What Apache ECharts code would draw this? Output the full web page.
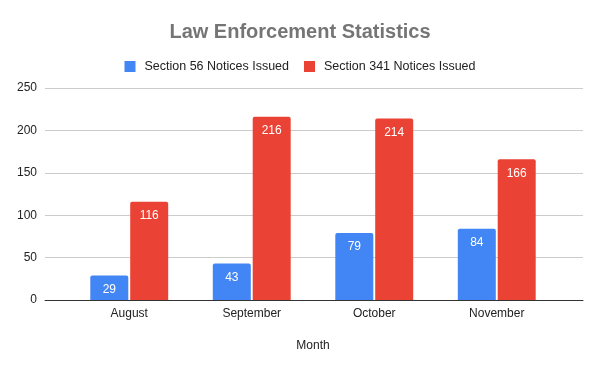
<!DOCTYPE html>
<html><head><meta charset="utf-8">
<script src="https://cdn.jsdelivr.net/npm/echarts@6/dist/echarts.min.js"></script>
<style>html,body{margin:0;padding:0;background:#fff}#c{width:600px;height:371px}</style>
</head><body><div id="c"></div>
<script>
const months = ['August', 'September', 'October', 'November'];
const section56 = [29, 43, 79, 84];
const section341 = [116, 216, 214, 166];
const yTicks = [0, 50, 100, 150, 200, 250];

const chart = echarts.init(document.getElementById('c'));
const font = '"Liberation Sans", Arial, sans-serif';
chart.setOption({
  animation: false,
  title: {text: 'Law Enforcement Statistics', left: 'center', top: 17,
    textStyle: {fontFamily: font, fontSize: 20, fontWeight: 'bold', color: '#757575'}},
  legend: {top: 55, left: 'center', itemWidth: 11, itemHeight: 11, itemGap: 15, icon: 'rect',
    textStyle: {fontFamily: font, fontSize: 12.5, color: '#222', padding: [0, 0, 0, 4]},
    data: ['Section 56 Notices Issued', 'Section 341 Notices Issued']},
  grid: [
    {left: 45, right: 17, top: 88, bottom: 71},
    {left: 68, right: 42, top: 88, bottom: 71}
  ],
  xAxis: [
    {gridIndex: 0, type: 'category', data: months,
      axisLine: {show: true, lineStyle: {color: '#333'}}, axisTick: {show: false}, axisLabel: {show: false}},
    {gridIndex: 1, type: 'category', data: months,
      axisLine: {show: false}, axisTick: {show: false},
      axisLabel: {fontFamily: font, fontSize: 12, color: '#222', margin: 8},
      name: 'Month', nameLocation: 'middle', nameGap: 40,
      nameTextStyle: {fontFamily: font, fontSize: 12, color: '#222'}}
  ],
  yAxis: [
    {gridIndex: 0, type: 'value', min: yTicks[0], max: yTicks[yTicks.length-1], interval: 50,
      axisLine: {show: false}, axisTick: {show: false},
      axisLabel: {fontFamily: font, fontSize: 12, color: '#222', margin: 8},
      splitLine: {lineStyle: {color: '#cccccc'}}},
    {gridIndex: 1, type: 'value', min: yTicks[0], max: yTicks[yTicks.length-1], interval: 50,
      show: false, splitLine: {show: false}}
  ],
  series: [
    {name: 'Section 56 Notices Issued', type: 'bar', xAxisIndex: 1, yAxisIndex: 1, z: 3,
      data: section56, barWidth: 38, barGap: '5%', itemStyle: {color: '#4285F4', borderRadius: [2,2,0,0]},
      label: {show: true, position: 'insideTop', distance: 8, color: '#fff', fontFamily: font, fontSize: 12}},
    {name: 'Section 341 Notices Issued', type: 'bar', xAxisIndex: 1, yAxisIndex: 1, z: 3,
      data: section341, barWidth: 38, barGap: '5%', itemStyle: {color: '#EA4335', borderRadius: [2,2,0,0]},
      label: {show: true, position: 'insideTop', distance: 8, color: '#fff', fontFamily: font, fontSize: 12}},
    {type: 'bar', xAxisIndex: 0, yAxisIndex: 0, data: [], silent: true}
  ]
});
</script></body></html>
